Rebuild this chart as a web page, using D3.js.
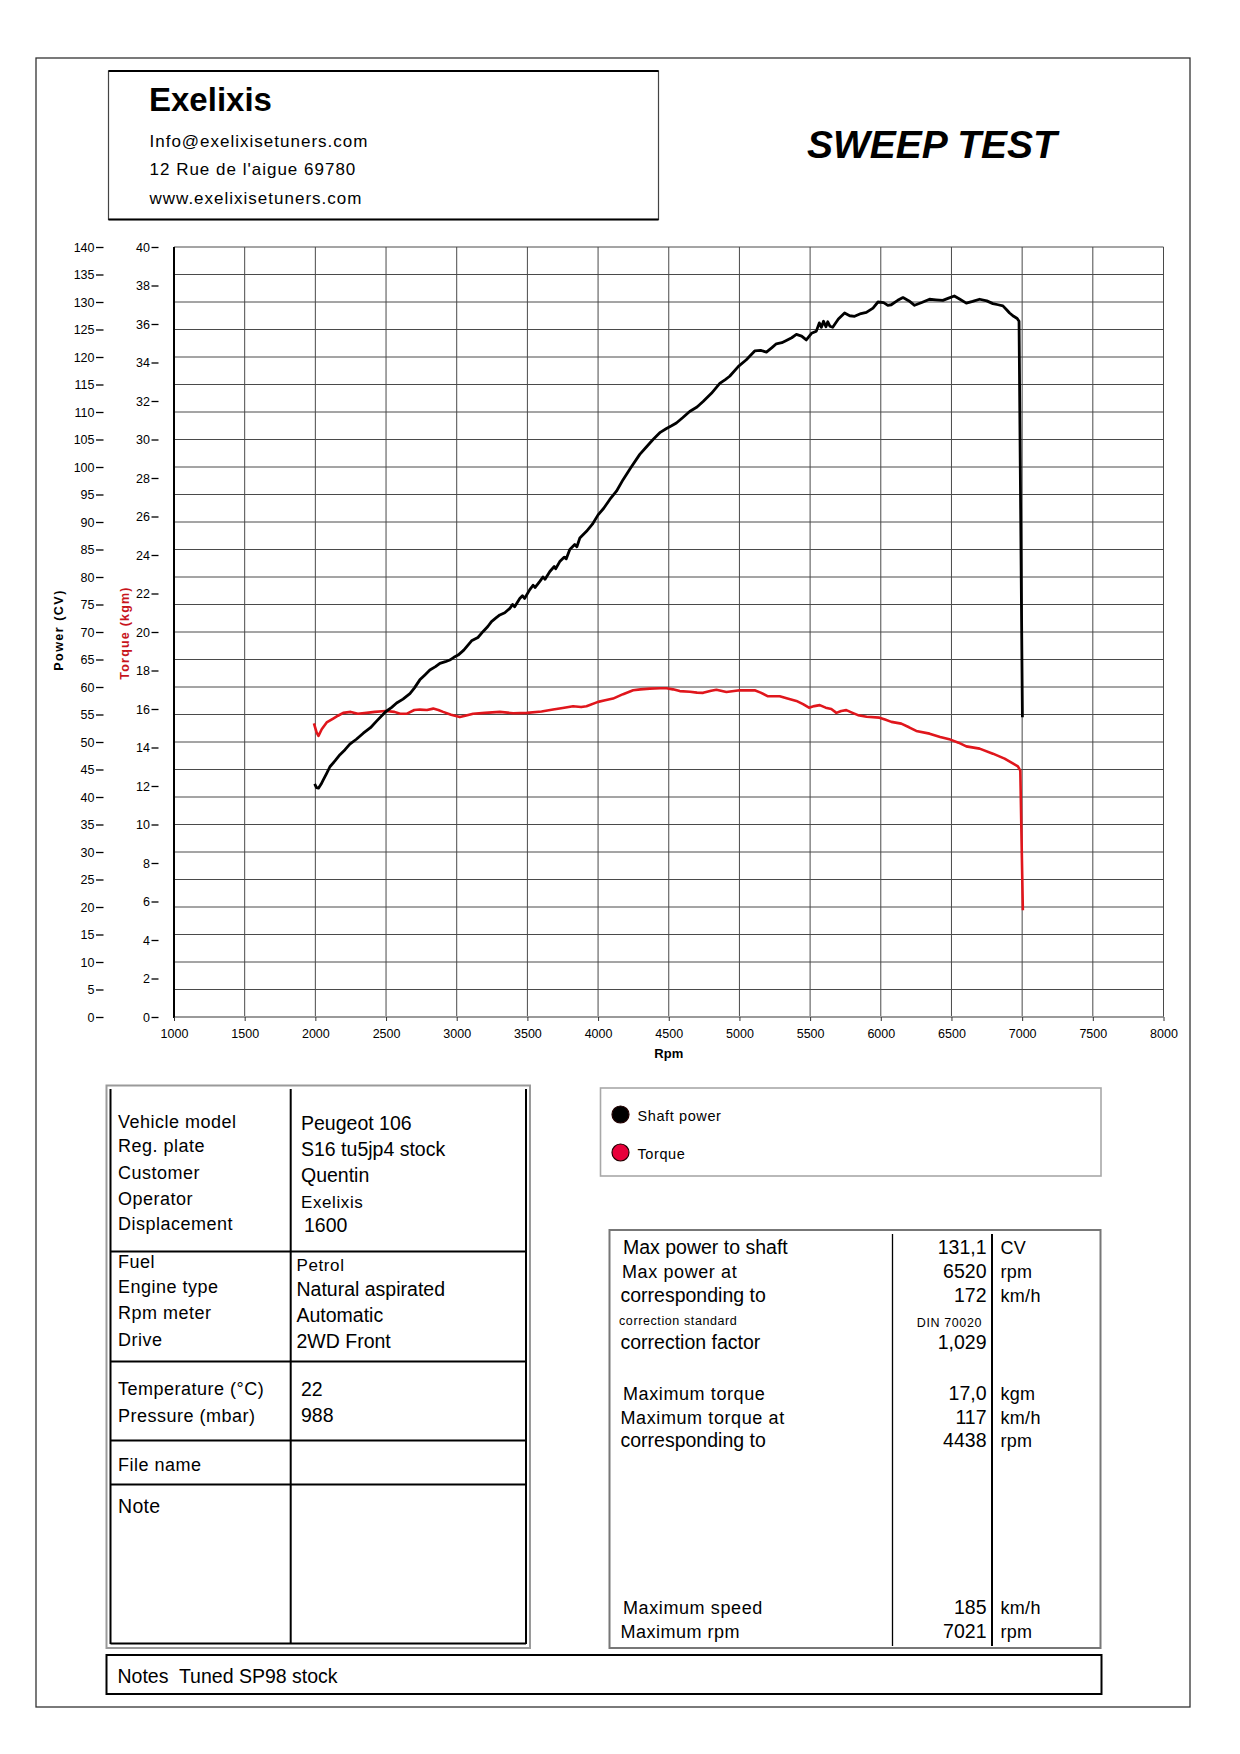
<!DOCTYPE html>
<html><head><meta charset="utf-8">
<script src="https://cdn.jsdelivr.net/npm/d3@7"></script>
<style>body{margin:0;background:#fff}svg{display:block}</style>
</head><body>
<svg id="c" width="1240" height="1754"></svg>
<script>
// ---------- DATA ----------
const rpmTicks = [1000,1500,2000,2500,3000,3500,4000,4500,5000,5500,6000,6500,7000,7500,8000];
const powerTicks = [0,5,10,15,20,25,30,35,40,45,50,55,60,65,70,75,80,85,90,95,100,105,110,115,120,125,130,135,140];
const torqueTicks = [0,2,4,6,8,10,12,14,16,18,20,22,24,26,28,30,32,34,36,38,40];

const powerRpm = [1995,2008,2022,2040,2056,2080,2103,2140,2174,2210,2244,2290,2339,2390,2433,2497,2540,2575,2620,2669,2700,2739,2775,2810,2850,2881,2920,2951,2980,3010,3050,3105,3150,3187,3220,3246,3280,3305,3340,3376,3395,3410,3446,3465,3480,3517,3540,3555,3588,3610,3625,3659,3690,3700,3729,3760,3775,3800,3835,3850,3871,3918,3960,4000,4040,4083,4130,4177,4230,4295,4340,4389,4440,4484,4520,4554,4600,4648,4700,4743,4802,4861,4900,4931,4993,5049,5108,5150,5191,5230,5261,5300,5332,5370,5403,5440,5473,5510,5544,5565,5580,5595,5612,5625,5640,5660,5700,5744,5780,5815,5860,5898,5945,5980,6020,6050,6074,6120,6157,6200,6239,6290,6345,6390,6439,6480,6520,6560,6605,6650,6699,6750,6793,6830,6864,6890,6911,6940,6965,6978,7002];
const powerCV = [42.4,41.7,41.6,42.3,43.1,44.3,45.5,46.6,47.7,48.6,49.6,50.5,51.6,52.6,53.8,55.5,56.3,57.1,57.8,58.8,59.8,61.3,62.2,63.1,63.7,64.3,64.6,64.9,65.4,65.8,66.7,68.4,69.0,70.1,71.0,71.9,72.6,73.1,73.5,74.3,75.0,74.6,76.1,76.6,76.1,77.7,78.5,78.1,79.2,80.0,79.6,81.0,81.9,81.5,82.8,83.6,83.3,85.0,85.9,85.5,87.1,88.3,89.6,91.3,92.5,94.1,95.6,97.7,99.8,102.3,103.6,105.0,106.3,107.0,107.5,108.0,109.0,110.1,110.9,111.9,113.4,115.2,115.9,116.5,118.3,119.5,121.1,121.2,120.9,121.7,122.4,122.6,123.0,123.5,124.1,123.8,123.1,124.3,124.7,126.2,125.4,126.5,125.5,126.4,125.6,125.4,126.9,128.0,127.5,127.4,127.9,128.1,128.9,130.0,129.9,129.4,129.5,130.3,130.8,130.2,129.4,129.9,130.5,130.4,130.3,130.7,131.1,130.5,129.8,130.1,130.5,130.2,129.7,129.5,129.3,128.6,128.0,127.4,127.0,126.5,54.5];

const torqueRpm = [1990,2008,2022,2045,2080,2126,2160,2197,2250,2300,2362,2420,2497,2560,2600,2645,2700,2739,2790,2834,2870,2904,2960,3022,3060,3116,3200,3305,3400,3496,3600,3682,3750,3823,3880,3918,4000,4050,4106,4177,4248,4300,4366,4438,4484,4530,4578,4650,4700,4743,4800,4837,4908,5002,5108,5150,5202,5285,5340,5403,5450,5492,5530,5568,5610,5650,5686,5720,5756,5800,5839,5900,5990,6030,6075,6145,6200,6251,6345,6420,6492,6550,6605,6699,6793,6876,6940,6970,6987,7005];
const torqueKgm = [15.25,14.8,14.6,14.95,15.3,15.5,15.65,15.8,15.85,15.75,15.8,15.85,15.9,15.85,15.75,15.75,15.95,15.97,15.95,16.02,15.95,15.85,15.7,15.58,15.65,15.75,15.8,15.85,15.78,15.8,15.87,15.97,16.05,16.14,16.1,16.14,16.37,16.45,16.54,16.77,16.97,17.02,17.06,17.08,17.08,17.02,16.93,16.9,16.85,16.84,16.95,17.0,16.88,16.97,16.97,16.85,16.66,16.66,16.55,16.42,16.25,16.07,16.15,16.2,16.07,16.0,15.8,15.9,15.94,15.8,15.68,15.6,15.55,15.45,15.33,15.24,15.05,14.86,14.72,14.55,14.41,14.25,14.06,13.94,13.68,13.42,13.15,13.02,12.8,5.55];

const headerLines = ["Info@exelixisetuners.com","12 Rue de l'aigue 69780","www.exelixisetuners.com"];
const legendLabels = ["Shaft power","Torque"];
const vehicleLabels = ["Vehicle model","Reg. plate","Customer","Operator","Displacement"];
const vehicleValues = ["Peugeot 106","S16 tu5jp4 stock","Quentin","Exelixis","1600"];
const engineLabels = ["Fuel","Engine type","Rpm meter","Drive"];
const engineValues = ["Petrol","Natural aspirated","Automatic","2WD Front"];
const condLabels = ["Temperature (°C)","Pressure (mbar)"];
const condValues = ["22","988"];
const statLabels = ["Max power to shaft","Max power at","corresponding to","correction standard","correction factor","Maximum torque","Maximum torque at","corresponding to","Maximum speed","Maximum rpm"];
const statValues = ["131,1","6520","172","DIN 70020","1,029","17,0","117","4438","185","7021"];
const statUnits = ["CV","rpm","km/h","","","kgm","km/h","rpm","km/h","rpm"];

// ---------- DRAW ----------
const F = "'Liberation Sans', Arial, sans-serif";
const svg = d3.select("#c");
svg.append("rect").attr("width",1240).attr("height",1754).attr("fill","#fff");

// outer border
svg.append("rect").attr("x",36).attr("y",58).attr("width",1154).attr("height",1649)
  .attr("fill","none").attr("stroke","#333").attr("stroke-width",1.3);

// header box
svg.append("rect").attr("x",108.5).attr("y",71).attr("width",550).attr("height",148.5)
  .attr("fill","none").attr("stroke","#444").attr("stroke-width",1.2);
svg.append("line").attr("x1",108.5).attr("x2",658.5).attr("y1",71).attr("y2",71).attr("stroke","#000").attr("stroke-width",2);
svg.append("line").attr("x1",108.5).attr("x2",658.5).attr("y1",219.5).attr("y2",219.5).attr("stroke","#000").attr("stroke-width",2);
svg.append("text").attr("x",149).attr("y",111).attr("font-family",F).attr("font-weight","bold")
  .attr("font-size",33).text("Exelixis");
svg.selectAll("text.hdr").data(headerLines).join("text").attr("class","hdr")
  .attr("x",149.5).attr("y",(d,i)=>146.5+i*28.5).attr("font-family",F).attr("font-size",17)
  .attr("letter-spacing",1).text(d=>d);
svg.append("text").attr("x",807).attr("y",157.5).attr("font-family",F).attr("font-weight","bold")
  .attr("font-style","italic").attr("font-size",39).text("SWEEP TEST");

// scales
const x = d3.scaleLinear().domain([1000,8000]).range([174,1163.5]);
const yP = d3.scaleLinear().domain([0,140]).range([1017,247]);
const yT = d3.scaleLinear().domain([0,40]).range([1017,247]);

// grid
const grid = svg.append("g");
grid.selectAll("line.h").data(powerTicks.filter(d=>d>0)).join("line").attr("class","h")
  .attr("x1",x(1000)).attr("x2",x(8000)).attr("y1",d=>yP(d)).attr("y2",d=>yP(d))
  .attr("stroke","#4a4a4a").attr("stroke-width",1);
grid.selectAll("line.v").data(rpmTicks.filter(d=>d>1000)).join("line").attr("class","v")
  .attr("x1",d=>x(d)).attr("x2",d=>x(d)).attr("y1",yP(140)).attr("y2",yP(0))
  .attr("stroke","#4a4a4a").attr("stroke-width",1);
// frame
svg.append("line").attr("x1",x(1000)).attr("x2",x(8000)).attr("y1",yP(0)).attr("y2",yP(0))
  .attr("stroke","#9a9a9a").attr("stroke-width",2);
svg.append("line").attr("x1",x(1000)).attr("x2",x(1000)).attr("y1",yP(140)).attr("y2",yP(0)+1)
  .attr("stroke","#000").attr("stroke-width",2);

// axes
const gP = svg.append("g").attr("transform","translate(103.5,0)")
  .call(d3.axisLeft(yP).tickValues(powerTicks).tickSize(7.5).tickPadding(1.5));
gP.select(".domain").remove();
gP.attr("font-family",F).attr("font-size",12.5);
gP.selectAll("line").attr("stroke","#000").attr("stroke-width",1.3);

const gT = svg.append("g").attr("transform","translate(158.5,0)")
  .call(d3.axisLeft(yT).tickValues(torqueTicks).tickSize(7).tickPadding(1.5));
gT.select(".domain").remove();
gT.attr("font-family",F).attr("font-size",12.5);
gT.selectAll("line").attr("stroke","#000").attr("stroke-width",1.3);

const gX = svg.append("g").attr("transform",`translate(0,${yP(0)})`)
  .call(d3.axisBottom(x).tickValues(rpmTicks).tickSize(4).tickPadding(8).tickFormat(d3.format("d")));
gX.select(".domain").remove();
gX.attr("font-family",F).attr("font-size",12.5);
gX.selectAll("line").attr("stroke","#333");

svg.append("text").attr("x",x(4500)).attr("y",1058).attr("text-anchor","middle")
  .attr("font-family",F).attr("font-weight","bold").attr("font-size",13).text("Rpm");
svg.append("text").attr("transform","translate(63,630) rotate(-90)").attr("text-anchor","middle")
  .attr("font-family",F).attr("font-weight","bold").attr("font-size",12.5).attr("letter-spacing",1.5)
  .text("Power (CV)");
svg.append("text").attr("transform","translate(128.5,633) rotate(-90)").attr("text-anchor","middle")
  .attr("font-family",F).attr("font-weight","bold").attr("font-size",12.5).attr("letter-spacing",1.2)
  .attr("fill","#c8141c").text("Torque (kgm)");

// curves
const powerPts = d3.zip(powerRpm, powerCV);
const torquePts = d3.zip(torqueRpm, torqueKgm);
svg.append("path").datum(torquePts)
  .attr("d", d3.line().x(d=>x(d[0])).y(d=>yT(d[1])))
  .attr("fill","none").attr("stroke","#e0161c").attr("stroke-width",2.6).attr("stroke-linejoin","round");
svg.append("path").datum(powerPts)
  .attr("d", d3.line().x(d=>x(d[0])).y(d=>yP(d[1])))
  .attr("fill","none").attr("stroke","#000").attr("stroke-width",2.8).attr("stroke-linejoin","round");

// legend
svg.append("rect").attr("x",600.5).attr("y",1088).attr("width",500.5).attr("height",88)
  .attr("fill","none").attr("stroke","#a8a8a8").attr("stroke-width",1.6);
const legColors = ["#000","#e8003a"];
legendLabels.forEach((l,i)=>{
  svg.append("circle").attr("cx",620.5).attr("cy",1114.5+i*38).attr("r",8.5)
    .attr("fill",legColors[i]).attr("stroke","#200").attr("stroke-width",1.2);
  svg.append("text").attr("x",637.5).attr("y",1120.5+i*38).attr("font-family",F)
    .attr("font-size",14.5).attr("letter-spacing",0.6).text(l);
});

// left table
svg.append("rect").attr("x",106.5).attr("y",1085.5).attr("width",423.5).attr("height",562.5)
  .attr("fill","none").attr("stroke","#9a9a9a").attr("stroke-width",2);
const tl = svg.append("g").attr("stroke","#000").attr("stroke-width",2);
tl.append("line").attr("x1",110.5).attr("x2",110.5).attr("y1",1089).attr("y2",1644);
tl.append("line").attr("x1",526).attr("x2",526).attr("y1",1089).attr("y2",1644);
tl.append("line").attr("x1",110.5).attr("x2",526).attr("y1",1643.5).attr("y2",1643.5);
tl.append("line").attr("x1",290.7).attr("x2",290.7).attr("y1",1089).attr("y2",1644);
[1251.5,1361.5,1440.5,1484.5].forEach(yy=>{
  tl.append("line").attr("x1",110.5).attr("x2",526).attr("y1",yy).attr("y2",yy);
});
const labelY1 = [1127.5,1151.5,1179,1204.5,1229.5];
const labelY2 = [1267.5,1292.5,1319,1345.5];
const labelY3 = [1394.5,1421.5];
function txt(s,xx,yy,size,ls,anchor){
  return svg.append("text").attr("x",xx).attr("y",yy).attr("font-family",F).attr("font-size",size)
    .attr("letter-spacing",ls||0).attr("text-anchor",anchor||"start").style("white-space","pre").text(s);
}
vehicleLabels.forEach((s,i)=>txt(s,118,labelY1[i],18,0.5));
engineLabels.forEach((s,i)=>txt(s,118,labelY2[i],18,0.5));
condLabels.forEach((s,i)=>txt(s,118,labelY3[i],18,0.5));
txt("File name",118,1470.5,18,0.5);
txt("Note",118,1513,19.5,0.3);
const vvY = [1130,1156,1182,1208,1231.5];
const vvX = [301,301,301,301,304];
vehicleValues.forEach((s,i)=>{
  if(i===3) txt(s,vvX[i],vvY[i],17,0.6); else txt(s,vvX[i],vvY[i],19.5,0);
});
const evY = [1270.5,1295.5,1322,1347.5];
engineValues.forEach((s,i)=>{
  if(i===0) txt(s,296.5,evY[i],17,0.6); else txt(s,296.5,evY[i],19.5,0);
});
condValues.forEach((s,i)=>txt(s,301,[1395.5,1421.5][i],19.5,0));

// right table
svg.append("rect").attr("x",609.5).attr("y",1230).attr("width",491).attr("height",418)
  .attr("fill","none").attr("stroke","#777").attr("stroke-width",2);
svg.append("line").attr("x1",892.5).attr("x2",892.5).attr("y1",1234).attr("y2",1646).attr("stroke","#000").attr("stroke-width",1.3);
svg.append("line").attr("x1",992).attr("x2",992).attr("y1",1234).attr("y2",1646).attr("stroke","#000").attr("stroke-width",2);
const statY = [1254,1278,1302,1325,1349,1400,1423.5,1447,1614,1637.5];
const statX = [623,622,620.5,619,620.5,623,620.5,620.5,623,620.5];
const statSize = [19.5,18,19.5,12.5,19.5,18,18,19.5,18,18];
const statLS = [0,0.6,0,0.6,0,0.6,0.6,0,0.6,0.5];
statLabels.forEach((s,i)=>txt(s,statX[i],statY[i],statSize[i],statLS[i]));
statValues.forEach((s,i)=>{
  if(i===3) txt(s,982,1326.5,12.5,0.6,"end");
  else txt(s,986.5,statY[i],19.5,0,"end");
});
statUnits.forEach((s,i)=>{ if(s) txt(s,1000.5,statY[i],18,0.3); });

// notes box
svg.append("rect").attr("x",106.5).attr("y",1655).attr("width",995).attr("height",39)
  .attr("fill","none").attr("stroke","#000").attr("stroke-width",2);
txt("Notes  Tuned SP98 stock",117.5,1682.5,19.5,0);
</script>
</body></html>
